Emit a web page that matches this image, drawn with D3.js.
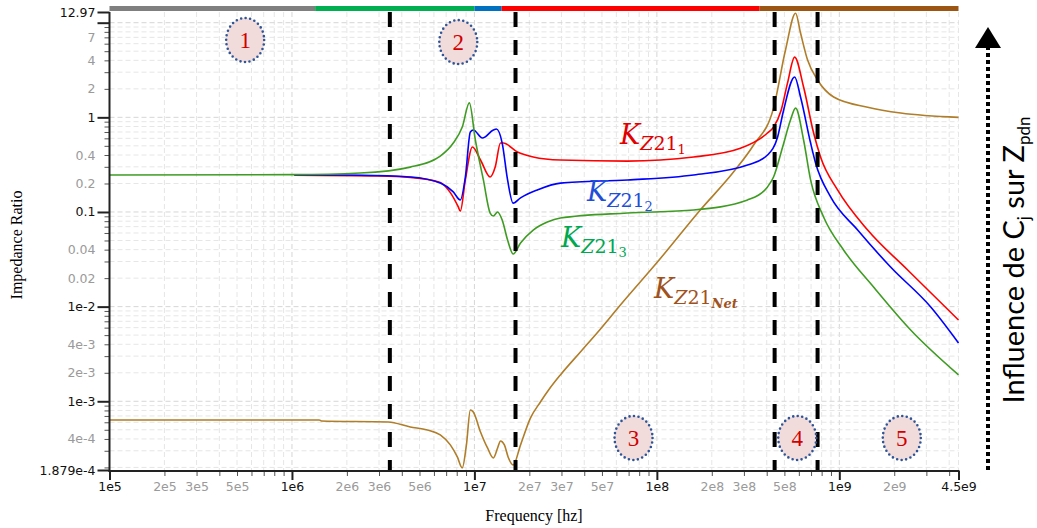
<!DOCTYPE html>
<html><head><meta charset="utf-8">
<script src="https://cdn.jsdelivr.net/npm/d3@7"></script>
<style>body{margin:0;background:#fff}svg{display:block}</style>
</head><body>
<svg id="chart" width="1037" height="528"></svg>
<script>
// ---------------- data ----------------
const freqK1 = [1.03e6, 2.93e6, 4.45e6, 6.5e6, 7.38e6, 8.16e6, 8.37e6, 8.92e6, 9.75e6, 1.08e7, 1.22e7, 1.30e7, 1.39e7, 1.44e7, 1.72e7, 2.10e7, 2.96e7, 6.9e7, 1.59e8, 2.87e8, 4.04e8, 4.36e8, 4.8e8, 5.2e8, 5.69e8, 6.37e8, 7.23e8, 7.89e8, 9.78e8, 1.43e9, 2.37e9, 4.5e9];
const valK1  = [0.245, 0.240, 0.232, 0.205, 0.16, 0.113, 0.102, 0.218, 0.486, 0.354, 0.234, 0.298, 0.535, 0.535, 0.43, 0.381, 0.354, 0.345, 0.381, 0.472, 0.683, 0.789, 1.19, 2.30, 4.33, 2.09, 0.683, 0.381, 0.171, 0.0645, 0.0244, 0.00722];

const freqK2 = [1.03e6, 2.37e6, 4.45e6, 6.5e6, 7.66e6, 8.37e6, 8.92e6, 9.5e6, 9.86e6, 1.107e7, 1.27e7, 1.32e7, 1.42e7, 1.52e7, 1.63e7, 1.79e7, 2.21e7, 2.96e7, 6.9e7, 1.59e8, 3.14e8, 4.04e8, 4.59e8, 4.95e8, 5.69e8, 6.13e8, 6.96e8, 7.41e8, 8.96e8, 1.26e9, 1.91e9, 3.17e9, 4.5e9];
const valK2  = [0.246, 0.244, 0.234, 0.202, 0.163, 0.134, 0.234, 0.70, 0.734, 0.604, 0.734, 0.752, 0.535, 0.218, 0.124, 0.141, 0.171, 0.202, 0.218, 0.246, 0.313, 0.40, 0.62, 1.19, 2.67, 1.64, 0.535, 0.329, 0.144, 0.0645, 0.0262, 0.00991, 0.00413];

const freqK3 = [1e5, 1.03e6, 2.37e6, 4.45e6, 6.5e6, 7.66e6, 8.58e6, 9.38e6, 1.012e7, 1.12e7, 1.22e7, 1.27e7, 1.34e7, 1.42e7, 1.52e7, 1.63e7, 1.79e7, 2.1e7, 2.51e7, 2.96e7, 6.9e7, 1.59e8, 3.14e8, 4.04e8, 4.36e8, 4.89e8, 5.4e8, 5.76e8, 6.37e8, 6.96e8, 8.2e8, 1.055e9, 1.54e9, 2.46e9, 4.5e9];
const valK3  = [0.246, 0.248, 0.258, 0.298, 0.39, 0.535, 0.789, 1.42, 0.576, 0.218, 0.0975, 0.0906, 0.100, 0.0822, 0.0506, 0.036, 0.047, 0.0645, 0.0783, 0.0863, 0.0975, 0.105, 0.134, 0.184, 0.234, 0.486, 0.936, 1.25, 0.576, 0.218, 0.0885, 0.0397, 0.0161, 0.00566, 0.0019];

const freqNet = [1e5, 1.41e6, 1.45e6, 3.37e6, 4.45e6, 5.52e6, 6.5e6, 7.38e6, 8.06e6, 8.58e6, 9.04e6, 9.5e6, 9.86e6, 1.08e7, 1.18e7, 1.27e7, 1.34e7, 1.39e7, 1.46e7, 1.53e7, 1.63e7, 1.79e7, 2.03e7, 2.3e7, 2.55e7, 2.96e7, 3.81e7, 4.91e7, 6.31e7, 1.007e8, 1.73e8, 2.63e8, 3.39e8, 4.36e8, 5.07e8, 5.76e8, 6.13e8, 6.7e8, 7.6e8, 9.31e8, 1.43e9, 2.17e9, 4.5e9];
const valNet  = [6.35e-4, 6.35e-4, 6.2e-4, 6.05e-4, 5.36e-4, 4.98e-4, 4.41e-4, 3.46e-4, 2.58e-4, 1.98e-4, 3.46e-4, 8.09e-4, 7.71e-4, 4.74e-4, 3.21e-4, 2.52e-4, 3.21e-4, 3.81e-4, 3.46e-4, 2.58e-4, 2.12e-4, 3.46e-4, 6.67e-4, 9.84e-4, 1.315e-3, 1.90e-3, 3.32e-3, 5.81e-3, 0.0104, 0.0296, 0.105, 0.264, 0.51, 1.25, 5.14, 12.6, 7.77, 4.03, 2.48, 1.64, 1.28, 1.11, 1.0];

// regions (top band) and boundaries
const bandStart = [1e5, 1.34e6, 1.0e7, 1.41e7, 3.66e8];
const bandEnd   = [1.34e6, 1.0e7, 1.41e7, 3.66e8, 4.5e9];
const boundaryFreqs = [3.44e6, 1.68e7, 4.42e8, 7.6e8];
const regionNumbers = ["1", "2", "3", "4", "5"];
const regionFreq = [5.54e5, 8.16e6, 7.45e7, 5.88e8, 2.2e9];
const regionVal  = [6.56, 6.24, 4.1e-4, 4.1e-4, 4.1e-4];

// ticks
const yMajorTicks  = [12.97, 10, 1, 0.1, 0.01, 1e-3, 1.879e-4];
const yMajorLabels = ["12.97", "", "1", "0.1", "1e-2", "1e-3", "1.879e-4"];
const yMinorLabeled = [7, 4, 2, 0.4, 0.2, 0.04, 0.02, 4e-3, 2e-3, 4e-4];
const yMinorLabels  = ["7", "4", "2", "0.4", "0.2", "0.04", "0.02", "4e-3", "2e-3", "4e-4"];
const xMajorTicks  = [1e5, 1e6, 1e7, 1e8, 1e9, 4.5e9];
const xMajorLabels = ["1e5", "1e6", "1e7", "1e8", "1e9", "4.5e9"];
const xMinorLabeled = [2e5, 3e5, 5e5, 2e6, 3e6, 5e6, 2e7, 3e7, 5e7, 2e8, 3e8, 5e8, 2e9];
const xMinorLabels  = ["2e5", "3e5", "5e5", "2e6", "3e6", "5e6", "2e7", "3e7", "5e7", "2e8", "3e8", "5e8", "2e9"];

// ---------------- drawing ----------------
const svg = d3.select("#chart");
const L = 109.5, R = 958.5, T = 12, B = 470;
const x = d3.scaleLog().domain([1e5, 4.5e9]).range([L, R]);
const y = d3.scaleLog().domain([1.879e-4, 12.97]).range([B, T]);

const xMinorAll = [], yMinorAll = [];
for (let e = 5; e <= 9; e++) for (let m = 2; m <= 9; m++) { const f = m * Math.pow(10, e); if (f < 4.5e9) xMinorAll.push(f); }
for (let e = -4; e <= 1; e++) for (let m = 2; m <= 9; m++) { const v = m * Math.pow(10, e); if (v > 1.879e-4 && v < 12.97) yMinorAll.push(v); }

// grid
const xMajGrid = [1e6, 1e7, 1e8, 1e9], yMajGrid = [10, 1, 0.1, 0.01, 1e-3];
const grid = svg.append("g");
grid.selectAll(".gx").data(xMinorAll.concat(xMajGrid, [4.5e9])).enter().append("line")
  .attr("x1", d => x(d)).attr("x2", d => x(d)).attr("y1", T).attr("y2", B)
  .attr("stroke", d => xMajGrid.includes(d) ? "#d6d6d6" : "#e6e6e6")
  .attr("stroke-width", 1).attr("stroke-dasharray", "5,3");
grid.selectAll(".gy").data(yMinorAll.concat(yMajGrid)).enter().append("line")
  .attr("x1", L).attr("x2", R).attr("y1", d => y(d)).attr("y2", d => y(d))
  .attr("stroke", d => yMajGrid.includes(d) ? "#d6d6d6" : "#e6e6e6")
  .attr("stroke-width", 1).attr("stroke-dasharray", "5,3");

// top band
const bandColors = ["#7f7f7f", "#00b050", "#0070c0", "#ff0000", "#9c5512"];
svg.append("g").selectAll("rect").data(bandStart).enter().append("rect")
  .attr("x", d => x(d)).attr("width", (d, i) => x(bandEnd[i]) - x(d))
  .attr("y", 6).attr("height", 5).attr("fill", (d, i) => bandColors[i]);

// curves
const line = d3.line().x(d => x(d[0])).y(d => y(d[1])).curve(d3.curveMonotoneX);
const zip = (a, b) => a.map((v, i) => [v, b[i]]);
const curves = [
  {f: freqNet, v: valNet, c: "#b07d28"},
  {f: freqK1, v: valK1, c: "#ff0000"},
  {f: freqK2, v: valK2, c: "#0000ff"},
  {f: freqK3, v: valK3, c: "#3f9c22"}
];
svg.append("g").selectAll("path").data(curves).enter().append("path")
  .attr("d", d => line(zip(d.f, d.v))).attr("fill", "none")
  .attr("stroke", d => d.c).attr("stroke-width", 1.6);

// boundaries
svg.append("g").selectAll("line").data(boundaryFreqs).enter().append("line")
  .attr("x1", d => x(d)).attr("x2", d => x(d)).attr("y1", T).attr("y2", B)
  .attr("stroke", "#000").attr("stroke-width", 4).attr("stroke-dasharray", "15,13");

// axes
const font = "'DejaVu Sans', sans-serif";
const findLab = (arr, labs, d) => { const k = arr.findIndex(v => Math.abs(v - d) / v < 1e-6); return k >= 0 ? labs[k] : ""; };
const yAxMaj = svg.append("g").attr("transform", `translate(${L},0)`)
  .call(d3.axisLeft(y).tickValues(yMajorTicks).tickSize(12).tickPadding(2).tickFormat((d, i) => yMajorLabels[i]));
const yAxMin = svg.append("g").attr("transform", `translate(${L},0)`)
  .call(d3.axisLeft(y).tickValues(yMinorAll).tickSize(5).tickPadding(9).tickFormat(d => findLab(yMinorLabeled, yMinorLabels, d)));
const xAxMaj = svg.append("g").attr("transform", `translate(0,${B + 1})`)
  .call(d3.axisBottom(x).tickValues(xMajorTicks).tickSize(9).tickPadding(2).tickFormat((d, i) => xMajorLabels[i]));
const xAxMin = svg.append("g").attr("transform", `translate(0,${B + 1})`)
  .call(d3.axisBottom(x).tickValues(xMinorAll).tickSize(5).tickPadding(6).tickFormat(d => findLab(xMinorLabeled, xMinorLabels, d)));
[yAxMaj, yAxMin, xAxMaj, xAxMin].forEach(g => {
  g.selectAll(".domain").remove();
  g.selectAll("text").attr("font-family", font).attr("font-size", 12.5);
});
[yAxMaj, xAxMaj].forEach(g => { g.selectAll("line").attr("stroke", "#222").attr("stroke-width", 2); g.selectAll("text").attr("fill", "#111"); });
[yAxMin, xAxMin].forEach(g => { g.selectAll("line").attr("stroke", "#555").attr("stroke-width", 1); g.selectAll("text").attr("fill", "#9a9a9a"); });
svg.append("line").attr("x1", L).attr("x2", L).attr("y1", T).attr("y2", B + 2).attr("stroke", "#222").attr("stroke-width", 2);
svg.append("line").attr("x1", L - 1).attr("x2", R + 1).attr("y1", B + 1).attr("y2", B + 1).attr("stroke", "#222").attr("stroke-width", 2);

// axis titles
svg.append("text").attr("x", 534).attr("y", 521).attr("text-anchor", "middle")
  .attr("font-family", "'Liberation Serif', serif").attr("font-size", 16).text("Frequency [hz]");
svg.append("text").attr("transform", "translate(22,245) rotate(-90)").attr("text-anchor", "middle")
  .attr("font-family", "'Liberation Serif', serif").attr("font-size", 16).text("Impedance Ratio");

// region markers
const rg = svg.append("g").selectAll("g").data(regionNumbers).enter().append("g")
  .attr("transform", (d, i) => `translate(${x(regionFreq[i])},${y(regionVal[i])})`);
rg.append("ellipse").attr("rx", 19).attr("ry", 22).attr("fill", "#f2dcdb")
  .attr("stroke", "#2f5597").attr("stroke-width", 2.6).attr("stroke-dasharray", "0,4.6").attr("stroke-linecap", "round");
rg.append("text").attr("text-anchor", "middle").attr("y", 8).attr("fill", "#d00000")
  .attr("font-family", "'Liberation Serif', serif").attr("font-size", 23).text(d => d);

// series labels
const kLabels = [
  {px: 620, py: 144, sub: "1", c: "#e00000"},
  {px: 587, py: 201, sub: "2", c: "#1f4fd8"},
  {px: 561, py: 247, sub: "3", c: "#00a84f"},
  {px: 654, py: 298, sub: "Net", c: "#a0521d"}
];
kLabels.forEach(k => {
  const t = svg.append("text").attr("x", k.px).attr("y", k.py).attr("fill", k.c)
    .attr("font-family", "'DejaVu Serif', serif");
  t.append("tspan").attr("font-size", 27).attr("font-style", "italic").text("K");
  t.append("tspan").attr("font-size", 19).attr("font-style", "italic").attr("dy", 6).text("Z");
  t.append("tspan").attr("font-size", 19).text("21");
  t.append("tspan").attr("font-size", 13).attr("dy", 4)
    .attr("font-weight", k.sub === "Net" ? "bold" : "normal")
    .attr("font-style", k.sub === "Net" ? "italic" : "normal").text(k.sub);
});

// right annotation
svg.append("line").attr("x1", 988).attr("x2", 988).attr("y1", 470).attr("y2", 48)
  .attr("stroke", "#000").attr("stroke-width", 4).attr("stroke-dasharray", "4,3");
svg.append("path").attr("d", "M975,48 L1001,48 L988,27 Z").attr("fill", "#000");
const ann = svg.append("text").attr("transform", "translate(1024,260) rotate(-90)").attr("text-anchor", "middle")
  .attr("font-family", "Lato, 'Open Sans', sans-serif").attr("font-size", 29).attr("fill", "#000");
ann.append("tspan").text("Influence de C");
ann.append("tspan").attr("font-size", 17).attr("dy", 6).text("j");
ann.append("tspan").attr("dy", -6).text(" sur Z");
ann.append("tspan").attr("font-size", 17).attr("dy", 6).text("pdn");
</script>
</body></html>
